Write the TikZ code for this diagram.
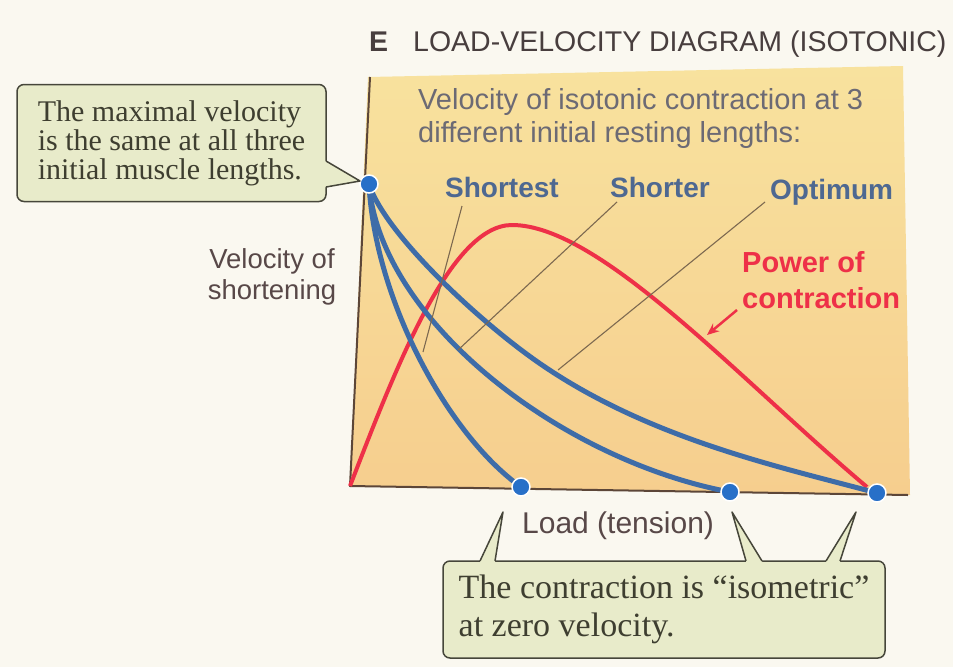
\documentclass[tikz,border=0pt]{standalone}
\usepackage{fontspec}
\setmainfont{Liberation Serif}
\setsansfont{Liberation Sans}
\usetikzlibrary{arrows.meta}
\definecolor{paper}{RGB}{250,248,240}
\definecolor{chartTop}{RGB}{248,226,158}
\definecolor{chartBot}{RGB}{246,206,142}
\definecolor{curveblue}{RGB}{62,108,168}
\definecolor{dotblue}{RGB}{40,112,200}
\definecolor{powerred}{RGB}{238,48,72}
\definecolor{axisbrown}{RGB}{92,70,56}
\definecolor{pointercol}{RGB}{125,105,80}
\definecolor{labelblue}{RGB}{78,104,145}
\definecolor{introgrey}{RGB}{108,106,116}
\definecolor{darktext}{RGB}{88,72,72}
\definecolor{titlecol}{RGB}{72,62,62}
\definecolor{calloutfill}{RGB}{232,235,202}
\definecolor{calloutline}{RGB}{70,70,58}
\definecolor{callouttext}{RGB}{62,62,48}
\tikzset{
  bluecurve/.style={line width=5pt, color=curveblue, line cap=round},
  powercurve/.style={line width=4pt, color=powerred},
  axisline/.style={line width=2pt, color=axisbrown, line join=round},
  pointerline/.style={line width=1.1pt, color=pointercol},
  enddot/.style={circle, fill=dotblue, draw=white, line width=1.5pt, minimum size=18pt, inner sep=0pt},
  callout/.style={draw=calloutline, fill=calloutfill, line width=1.5pt, rounded corners=7pt, inner sep=0pt, align=left, text=callouttext},
  tailfill/.style={fill=calloutfill},
  tailline/.style={draw=calloutline, line width=1.5pt, line join=round},
  lengthlabel/.style={font=\sffamily\bfseries\fontsize{28}{33}\selectfont, text=labelblue, inner sep=0pt, anchor=base west},
  powerlabel/.style={font=\sffamily\bfseries\fontsize{29}{34}\selectfont, text=powerred, inner sep=0pt, anchor=base west},
  introtext/.style={font=\sffamily\fontsize{29}{33}\selectfont, text=introgrey, inner sep=0pt, anchor=base west},
  axistext/.style={font=\sffamily\fontsize{27.5}{31}\selectfont, text=darktext, inner sep=0pt, anchor=base},
  titletext/.style={font=\sffamily\fontsize{28.5}{33}\selectfont, text=titlecol, inner sep=0pt, anchor=base west}
}
\begin{document}
\begin{tikzpicture}[x=1pt,y=-1pt]
\useasboundingbox (0,0) rectangle (953,667);
\fill[paper] (0,0) rectangle (953,667);
% chart area
\shade[top color=chartTop, bottom color=chartBot] (368,77) -- (903,66) -- (910,495) -- (350,486) -- cycle;
% title
\node[titletext] (titleE) at (369,51) {\bfseries E};
\node[titletext] (title) at (413,51) {LOAD-VELOCITY DIAGRAM (ISOTONIC)};
% intro text
\node[introtext] (intro1) at (418,109) {Velocity of isotonic contraction at 3};
\node[introtext] (intro2) at (418,142) {different initial resting lengths:};
% axes
\coordinate (ytop) at (370,77);
\coordinate (origin) at (350,486);
\coordinate (xend) at (908,495);
\draw[axisline] (ytop) -- (origin) -- (xend);
% axis labels
\node[axistext] (vs1) at (272,268) {Velocity of};
\node[axistext] (vs2) at (272,299) {shortening};
\node[axistext, font=\sffamily\fontsize{30}{34}\selectfont, anchor=base west] (load) at (522,533) {Load (tension)};
% power curve
\coordinate (powerstart) at (350,486);
\coordinate (powerpeak) at (512,225);
\coordinate (powerend) at (867,487);
\draw[powercurve] (powerstart) .. controls (395,370) and (450,225) .. (powerpeak) .. controls (600,225) and (740,380) .. (powerend);
% dot positions
\coordinate (vmax) at (369,184);
\coordinate (iso1) at (521,487);
\coordinate (iso2) at (730,492);
\coordinate (iso3) at (877,493);
\coordinate (optmid) at (545,367);
% load-velocity curves
\draw[bluecurve] (vmax) .. controls (375,300) and (448,435) .. (iso1);
\draw[bluecurve] (vmax) .. controls (380,320) and (560,460) .. (iso2);
\draw[bluecurve] (vmax) .. controls (385,235) and (485,327) .. (optmid) .. controls (655,441) and (785,468) .. (iso3);
% dots
\node[enddot] (vmaxdot) at (vmax) {};
\node[enddot] (iso1dot) at (iso1) {};
\node[enddot] (iso2dot) at (iso2) {};
\node[enddot] (iso3dot) at (iso3) {};
% curve labels
\node[lengthlabel] (lshortest) at (445,197) {Shortest};
\node[lengthlabel] (lshorter) at (610,197) {Shorter};
\node[lengthlabel] (loptimum) at (770,199) {Optimum};
\coordinate (p1a) at (462,206); \coordinate (p1b) at (423,352);
\coordinate (p2a) at (617,202); \coordinate (p2b) at (458,350);
\coordinate (p3a) at (765,202); \coordinate (p3b) at (558,370);
\draw[pointerline] (p1a) -- (p1b);
\draw[pointerline] (p2a) -- (p2b);
\draw[pointerline] (p3a) -- (p3b);
% power label
\node[powerlabel] (power1) at (742,272) {Power of};
\node[powerlabel] (power2) at (742,308) {contraction};
\coordinate (arrowtail) at (737,310);
\coordinate (arrowtip) at (707,335);
\draw[powercurve, line width=2.5pt, -{Stealth[length=12pt,width=10pt]}] (arrowtail) -- (arrowtip);
% callout 1
\node[callout, font=\fontsize{30}{29}\selectfont, minimum width=309pt, minimum height=117pt] (note1) at (171.5,143) {The maximal velocity\\is the same at all three\\initial muscle lengths.};
\fill[tailfill] (326,161) -- (360,181) -- (326,187) -- (321,187) -- (321,161) -- cycle;
\draw[tailline] (326,161) -- (360,181) -- (326,187);
% callout 2
\node[callout, font=\fontsize{34}{38}\selectfont, minimum width=442pt, minimum height=97pt] (note2) at (664,609.5) {The contraction is “isometric”\\at zero velocity.};
\fill[tailfill] (480,561) -- (503,512) -- (495,561) -- (495,566) -- (480,566) -- cycle;
\draw[tailline] (480,561) -- (503,512) -- (495,561);
\fill[tailfill] (746,561) -- (732,512) -- (762,561) -- (762,566) -- (746,566) -- cycle;
\draw[tailline] (746,561) -- (732,512) -- (762,561);
\fill[tailfill] (826,561) -- (856,512) -- (840,561) -- (840,566) -- (826,566) -- cycle;
\draw[tailline] (826,561) -- (856,512) -- (840,561);
\end{tikzpicture}
\end{document}
